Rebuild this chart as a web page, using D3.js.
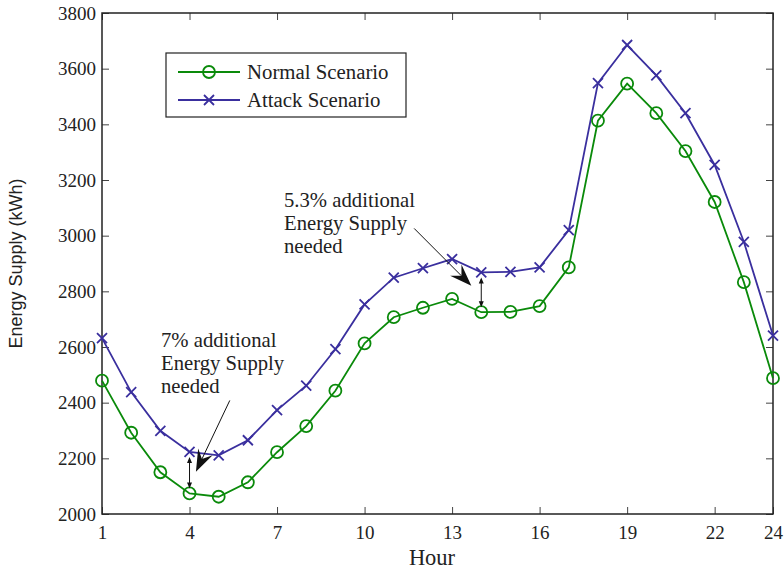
<!DOCTYPE html>
<html>
<head>
<meta charset="utf-8">
<script src="https://cdn.jsdelivr.net/npm/d3@7"></script>
<style>
	body { margin: 0; background: #fff; }
	svg text { font-family: "Liberation Serif", "Times New Roman", serif; fill: #222; }
</style>
</head>
<body>
<div id="chart"></div>
<script>
// chart data
var hours = [1, 2, 3, 4, 5, 6, 7, 8, 9, 10, 11, 12, 13, 14, 15, 16, 17, 18, 19, 20, 21, 22, 23, 24];
var normalSupply = [2479, 2292, 2150, 2074, 2062, 2114, 2222, 2316, 2443, 2613, 2707, 2741,
	2773, 2725, 2726, 2747, 2886, 3413, 3546, 3440, 3304, 3121, 2833, 2488];
var attackSupply = [2632, 2438, 2299, 2223, 2211, 2265, 2373, 2461, 2592, 2753, 2849, 2883,
	2916, 2868, 2870, 2886, 3020, 3548, 3685, 3576, 3440, 3254, 2978, 2641];
var xTicks = [1, 4, 7, 10, 13, 16, 19, 22, 24];
var yTicks = [2000, 2200, 2400, 2600, 2800, 3000, 3200, 3400, 3600, 3800];
var seriesNames = ['Normal Scenario', 'Attack Scenario'];

var width = 784, height = 572;
var plotLeft = 102, plotRight = 773, plotTop = 13, plotBottom = 514;
var green = '#0a8a0a', blue = '#3a2f9e';

var svg = d3.select('#chart').append('svg')
	.attr('width', width)
	.attr('height', height);

var x = d3.scaleLinear().domain([1, 24]).range([plotLeft, plotRight]);
var y = d3.scaleLinear().domain([2000, 3800]).range([plotBottom, plotTop]);

// axes, ticks pointing inwards on all four sides
function styleAxis(g) {
	g.select('.domain').remove();
	g.selectAll('.tick line').attr('stroke', '#444').attr('stroke-width', 1);
	g.selectAll('.tick text').attr('font-size', 19).attr('fill', '#222');
}
svg.append('g').attr('transform', 'translate(0,' + plotBottom + ')')
	.call(d3.axisBottom(x).tickValues(xTicks).tickSizeInner(-7).tickPadding(12).tickFormat(d3.format('d')))
	.call(styleAxis);
svg.append('g').attr('transform', 'translate(0,' + plotTop + ')')
	.call(d3.axisTop(x).tickValues(xTicks).tickSizeInner(-7).tickFormat(''))
	.call(styleAxis);
svg.append('g').attr('transform', 'translate(' + plotLeft + ',0)')
	.call(d3.axisLeft(y).tickValues(yTicks).tickSizeInner(-7).tickPadding(6).tickFormat(d3.format('d')))
	.call(styleAxis);
svg.append('g').attr('transform', 'translate(' + plotRight + ',0)')
	.call(d3.axisRight(y).tickValues(yTicks).tickSizeInner(-7).tickFormat(''))
	.call(styleAxis);

svg.append('rect')
	.attr('x', plotLeft).attr('y', plotTop)
	.attr('width', plotRight - plotLeft).attr('height', plotBottom - plotTop)
	.attr('fill', 'none').attr('stroke', '#222').attr('stroke-width', 1.5);

// axis labels
svg.append('text')
	.attr('x', 432).attr('y', 565)
	.attr('text-anchor', 'middle')
	.attr('font-size', 22.5)
	.text('Hour');
svg.append('text')
	.attr('transform', 'translate(22,' + ((plotTop + plotBottom) / 2) + ') rotate(-90)')
	.attr('text-anchor', 'middle')
	.style('font-family', '"Liberation Sans", Arial, sans-serif')
	.attr('font-size', 18)
	.text('Energy Supply (kWh)');

// lines
var line = d3.line()
	.x(function(d, i) { return x(hours[i]); })
	.y(function(d) { return y(d); });

svg.append('path').datum(normalSupply)
	.attr('d', line).attr('fill', 'none')
	.attr('stroke', green).attr('stroke-width', 1.8);
svg.append('path').datum(attackSupply)
	.attr('d', line).attr('fill', 'none')
	.attr('stroke', blue).attr('stroke-width', 1.8);

// markers
function crossPath(cx, cy, s) {
	return 'M' + (cx - s) + ',' + (cy - s) + 'L' + (cx + s) + ',' + (cy + s)
		+ 'M' + (cx - s) + ',' + (cy + s) + 'L' + (cx + s) + ',' + (cy - s);
}
svg.selectAll('circle.normal')
	.data(normalSupply).enter()
	.append('circle')
	.attr('class', 'normal')
	.attr('cx', function(d, i) { return x(hours[i]); })
	.attr('cy', function(d) { return y(d); })
	.attr('r', 6)
	.attr('fill', 'none').attr('stroke', green).attr('stroke-width', 1.8);
svg.selectAll('path.attack')
	.data(attackSupply).enter()
	.append('path')
	.attr('class', 'attack')
	.attr('d', function(d, i) { return crossPath(x(hours[i]), y(d), 5); })
	.attr('stroke', blue).attr('stroke-width', 1.8);

// legend
var legend = svg.append('g');
legend.append('rect')
	.attr('x', 166).attr('y', 53).attr('width', 240).attr('height', 64)
	.attr('fill', '#fff').attr('stroke', '#222').attr('stroke-width', 1.2);
var legendRows = [
	{ name: seriesNames[0], color: green, y: 72 },
	{ name: seriesNames[1], color: blue, y: 100 }
];
legendRows.forEach(function(r, i) {
	legend.append('line')
		.attr('x1', 178).attr('x2', 240).attr('y1', r.y).attr('y2', r.y)
		.attr('stroke', r.color).attr('stroke-width', 1.8);
	if (i === 0)
		legend.append('circle').attr('cx', 209).attr('cy', r.y).attr('r', 6)
			.attr('fill', 'none').attr('stroke', r.color).attr('stroke-width', 1.8);
	else
		legend.append('path').attr('d', crossPath(209, r.y, 5))
			.attr('stroke', r.color).attr('stroke-width', 1.8);
	legend.append('text')
		.attr('x', 247).attr('y', r.y + 7)
		.attr('font-size', 20.8)
		.text(r.name);
});

// annotations
var notes = [
	{ lines: ['7% additional', 'Energy Supply', 'needed'], tx: 161, ty: 347,
		from: [5.38, 2408], to: [4.22, 2152], hour: 4 },
	{ lines: ['5.3% additional', 'Energy Supply', 'needed'], tx: 284, ty: 207,
		from: [11.7, 3026], to: [13.66, 2820], hour: 14 }
];
notes.forEach(function(n) {
	var t = svg.append('text').attr('font-size', 20.7);
	n.lines.forEach(function(s, i) {
		t.append('tspan').attr('x', n.tx).attr('y', n.ty + i * 23).text(s);
	});

	// pointer arrow with a large notched head
	var x0 = x(n.from[0]), y0 = y(n.from[1]);
	var x1 = x(n.to[0]), y1 = y(n.to[1]);
	var dx = x1 - x0, dy = y1 - y0, len = Math.sqrt(dx * dx + dy * dy);
	var ux = dx / len, uy = dy / len, nx = -uy, ny = ux;
	var L = 22, W = 8, notch = 8;
	svg.append('line')
		.attr('x1', x0).attr('y1', y0)
		.attr('x2', x1 - ux * (L - notch)).attr('y2', y1 - uy * (L - notch))
		.attr('stroke', '#111').attr('stroke-width', 1);
	svg.append('path')
		.attr('d', 'M' + x1 + ',' + y1
			+ 'L' + (x1 - ux * L + nx * W) + ',' + (y1 - uy * L + ny * W)
			+ 'L' + (x1 - ux * (L - notch)) + ',' + (y1 - uy * (L - notch))
			+ 'L' + (x1 - ux * L - nx * W) + ',' + (y1 - uy * L - ny * W) + 'Z')
		.attr('fill', '#111');

	// double arrow between the two series
	var i = hours.indexOf(n.hour);
	var hx = x(n.hour), ya = y(attackSupply[i]) + 5, yb = y(normalSupply[i]) - 5;
	svg.append('line')
		.attr('x1', hx).attr('x2', hx).attr('y1', ya + 2).attr('y2', yb - 2)
		.attr('stroke', '#111').attr('stroke-width', 1);
	svg.append('path')
		.attr('d', 'M' + hx + ',' + ya + 'l-2.5,6h5z M' + hx + ',' + yb + 'l-2.5,-6h5z')
		.attr('fill', '#111');
});
</script>
</body>
</html>
